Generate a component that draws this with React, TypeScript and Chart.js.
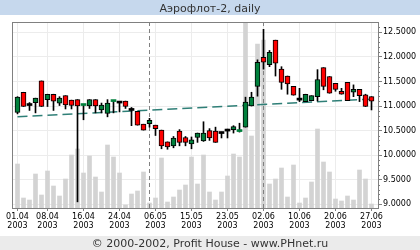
import React, { useEffect, useRef } from 'react';
import { Chart, registerables } from 'chart.js';

Chart.register(...registerables);

const chartTitle = 'Аэрофлот-2, daily';
const footerText = '© 2000-2002, Profit House - www.PHnet.ru';

// daily candles (index 0 = 01.04.2003)
const opens = [
  10.87, 11.28, 11.01, 11.07, 11.51, 11.13, 11.24, 11.06, 11.21, 11.12,
  11.13, 11.01, 11.0, 11.13, 10.92, 10.85, 11.09, 11.06, 11.1, 10.91,
  10.89, 10.63, 10.64, 10.61, 10.51, 10.27, 10.19, 10.49, 10.36, 10.23,
  10.36, 10.29, 10.5, 10.49, 10.44, 10.49, 10.52, 10.48, 10.57, 11.0,
  11.4, 11.99, 11.84, 12.34, 11.75, 11.61, 11.4, 11.12, 11.09, 11.11,
  11.19, 11.78, 11.6, 11.46, 11.3, 11.48, 11.28, 11.34, 11.23, 11.19,
];
const highs = [
  11.19, 11.28, 11.07, 11.16, 11.51, 11.24, 11.24, 11.19, 11.21, 11.12,
  11.13, 11.03, 11.13, 11.13, 11.06, 11.13, 11.1, 11.08, 11.1, 10.97,
  10.89, 10.63, 10.75, 10.61, 10.51, 10.27, 10.38, 10.52, 10.38, 10.37,
  10.45, 10.68, 10.54, 10.57, 10.47, 10.53, 10.6, 10.65, 11.18, 11.28,
  11.94, 12.56, 12.13, 12.34, 11.8, 11.61, 11.4, 11.36, 11.24, 11.21,
  11.74, 11.78, 11.6, 11.46, 11.36, 11.48, 11.43, 11.34, 11.24, 11.19,
];
const lows = [
  10.84, 10.99, 10.91, 10.86, 10.99, 10.99, 10.91, 11.01, 10.94, 10.94,
  9.05, 10.72, 10.95, 10.86, 10.86, 10.78, 10.86, 10.88, 10.95, 10.6,
  10.61, 10.51, 10.57, 10.4, 10.13, 10.12, 10.15, 10.19, 10.19, 10.13,
  10.26, 10.28, 10.3, 10.26, 10.35, 10.35, 10.45, 10.47, 10.57, 11.0,
  11.2, 11.75, 11.8, 11.61, 11.34, 11.24, 11.22, 11.09, 11.09, 11.11,
  11.1, 11.33, 11.26, 11.3, 11.24, 11.11, 11.19, 11.09, 10.99, 10.92,
];
const closes = [
  11.18, 10.99, 11.01, 11.16, 10.99, 11.24, 11.1, 11.16, 11.02, 11.01,
  11.0, 11.02, 11.13, 11.0, 11.02, 11.06, 11.1, 11.06, 10.99, 10.91,
  10.61, 10.51, 10.71, 10.54, 10.19, 10.17, 10.35, 10.26, 10.26, 10.31,
  10.45, 10.45, 10.35, 10.26, 10.44, 10.49, 10.58, 10.49, 11.08, 11.18,
  11.89, 11.89, 12.09, 11.87, 11.48, 11.45, 11.22, 11.12, 11.24, 11.21,
  11.54, 11.4, 11.26, 11.34, 11.24, 11.11, 11.34, 11.21, 10.99, 11.1,
];
// relative traded volume
const volumes = [
  44, 10, 8, 34, 13, 37, 22, 12, 29, 53,
  59, 35, 52, 31, 16, 63, 51, 35, 3, 14,
  17, 36, 5, 10, 50, 6, 11, 18, 23, 51,
  24, 53, 16, 8, 16, 32, 54, 51, 190, 72,
  164, 168, 24, 29, 40, 11, 43, 5, 10, 26,
  79, 46, 36, 9, 7, 12, 8, 38, 29, 4,
];

const tickIdx = [0, 5, 11, 17, 23, 29, 35, 41, 47, 53, 59];
const tickDates = ['01.04', '08.04', '16.04', '24.04', '06.05', '15.05', '23.05', '02.06', '10.06', '20.06', '27.06'];
const tickYear = '2003';
const priceTicks = [9, 9.5, 10, 10.5, 11, 11.5, 12, 12.5];
const minorPriceTicks = [
  9.1, 9.2, 9.3, 9.4, 9.6, 9.7, 9.8, 9.9, 10.1, 10.2, 10.3, 10.4, 10.6, 10.7, 10.8, 10.9,
  11.1, 11.2, 11.3, 11.4, 11.6, 11.7, 11.8, 11.9, 12.1, 12.2, 12.3, 12.4, 12.6,
];
const trendX = [0, 59];
const trendY = [10.78, 11.14];
const markerX = [22, 41];

const Y_MIN = 8.925;
const Y_MAX = 12.689;

const GREEN = '#00803c';
const RED = '#ff0000';

export default function App() {
  const ref = useRef<HTMLCanvasElement>(null);

  useEffect(() => {
    document.body.style.margin = '0';
    const canvas = ref.current;
    if (!canvas) return;
    const idx = opens.map((_, i) => i);

    const deco = {
      id: 'deco',
      beforeDraw(chart: any) {
        const { ctx, width, height } = chart;
        ctx.save();
        ctx.fillStyle = '#ffffff';
        ctx.fillRect(0, 0, width, height);
        ctx.fillStyle = '#c6d8ed';
        ctx.fillRect(0, 0, width, 15);
        ctx.fillStyle = '#ebebeb';
        ctx.fillRect(0, 236, width, 14);
        ctx.fillStyle = '#333333';
        ctx.font = '11px "DejaVu Sans"';
        ctx.textAlign = 'center';
        ctx.textBaseline = 'alphabetic';
        ctx.fillText(chartTitle, 210, 12);
        ctx.fillText(footerText, 210, 247);
        ctx.restore();
      },
      afterDraw(chart: any) {
        const { ctx, chartArea: a } = chart;
        const ys = chart.scales.y;
        ctx.save();
        ctx.strokeStyle = '#808080';
        ctx.lineWidth = 1;
        ctx.strokeRect(
          Math.round(a.left) - 0.5,
          Math.round(a.top) - 0.5,
          Math.round(a.right - a.left) + 1,
          Math.round(a.bottom - a.top) + 1
        );
        ctx.beginPath();
        minorPriceTicks.forEach((v) => {
          const p = Math.round(ys.getPixelForValue(v)) + 0.5;
          ctx.moveTo(a.right, p);
          ctx.lineTo(a.right + 2, p);
        });
        ctx.stroke();
        ctx.restore();
      },
    };

    const bodyColor = (c: any) => {
      const i = c.dataIndex;
      if (i === undefined) return GREEN;
      if (closes[i] > opens[i]) return GREEN;
      if (closes[i] < opens[i]) return RED;
      return '#000000';
    };
    const bodyBorder = (c: any) => {
      const i = c.dataIndex;
      if (i === undefined) return 1;
      return Math.abs(closes[i] - opens[i]) < 0.03 ? 0 : 1;
    };

    const chart = new Chart(canvas, {
      type: 'bar',
      data: {
        datasets: [
          {
            type: 'bar',
            data: idx.map((i) => ({ x: i, y: volumes[i] })),
            yAxisID: 'yv',
            backgroundColor: '#d3d3d3',
            barThickness: 4,
            grouped: false,
            order: 5,
          } as any,
          ...markerX.map((m) => ({
            type: 'line',
            data: [
              { x: m, y: Y_MIN },
              { x: m, y: Y_MAX },
            ],
            yAxisID: 'y',
            borderColor: '#808080',
            borderWidth: 1,
            borderDash: [4, 3],
            pointRadius: 0,
            order: 4,
          })),
          {
            type: 'line',
            data: trendX.map((x, k) => ({ x, y: trendY[k] })),
            yAxisID: 'y',
            borderColor: '#2f7f77',
            borderWidth: 1.5,
            borderDash: [10, 5],
            pointRadius: 0,
            order: 3,
          },
          {
            type: 'bar',
            data: idx.map((i) => ({ x: i, y: [lows[i], highs[i]] })),
            yAxisID: 'y',
            backgroundColor: '#000000',
            barThickness: 1,
            grouped: false,
            order: 2,
          },
          {
            type: 'bar',
            data: idx.map((i) => ({ x: i, y: [opens[i], closes[i]] })),
            yAxisID: 'y',
            backgroundColor: bodyColor,
            borderColor: '#000000',
            borderWidth: bodyBorder,
            borderSkipped: false,
            barThickness: 5,
            minBarLength: 2,
            grouped: false,
            order: 1,
          },
        ] as any,
      },
      options: {
        animation: false,
        responsive: false,
        maintainAspectRatio: false,
        layout: { padding: { left: 13, top: 23, right: 0, bottom: 0 } },
        plugins: {
          legend: { display: false },
          tooltip: { enabled: false },
          title: { display: false },
        },
        scales: {
          x: {
            type: 'linear',
            min: -0.75,
            max: 60.0833,
            offset: false,
            grid: { offset: false, color: '#ececec', tickColor: '#808080', tickLength: 3 },
            border: { display: false },
            afterBuildTicks: (s: any) => {
              s.ticks = tickIdx.map((v) => ({ value: v }));
            },
            afterFit: (s: any) => {
              s.height = 42;
            },
            ticks: {
              autoSkip: false,
              maxRotation: 0,
              padding: 1,
              color: '#000000',
              font: { family: 'DejaVu Sans', size: 8 },
              callback: (v: any) => {
                const k = tickIdx.indexOf(Number(v));
                return k >= 0 ? [tickDates[k], tickYear] : '';
              },
            },
          },
          y: {
            type: 'linear',
            position: 'right',
            min: Y_MIN,
            max: Y_MAX,
            grid: { color: '#ececec', tickColor: '#808080', tickLength: 4 },
            border: { display: false },
            afterBuildTicks: (s: any) => {
              s.ticks = priceTicks.map((v) => ({ value: v }));
            },
            afterFit: (s: any) => {
              s.width = 42;
            },
            ticks: {
              padding: 1,
              color: '#000000',
              font: { family: 'DejaVu Sans', size: 8 },
              callback: (v: any) => Number(v).toFixed(4),
            },
          },
          yv: { type: 'linear', display: false, min: 0, max: 185 },
        },
      } as any,
      plugins: [deco],
    });

    return () => chart.destroy();
  }, []);

  return <canvas ref={ref} width={420} height={250} style={{ display: 'block' }} />;
}
